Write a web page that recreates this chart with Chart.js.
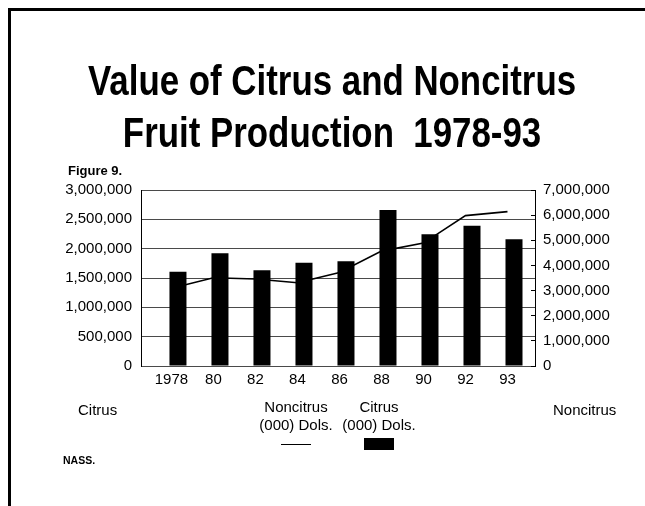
<!DOCTYPE html>
<html>
<head>
<meta charset="utf-8">
<script src="https://cdn.jsdelivr.net/npm/chart.js@4/dist/chart.umd.min.js"></script>
<style>
  html, body { margin: 0; padding: 0; background: #fff; }
  #page { position: relative; width: 645px; height: 506px; overflow: hidden; background: #fff;
          font-family: "Liberation Sans", Arial, Helvetica, sans-serif; color: #000; }
  #frame { position: absolute; left: 8px; top: 8px; width: 700px; height: 600px;
           border-left: 3px solid #000; border-top: 3px solid #000; }
  #chart { position: absolute; left: 0; top: 0; }
  .t { position: absolute; white-space: pre; line-height: 1; }
  .title { left: 10px; width: 645px; text-align: center; font-weight: bold; font-size: 42px; }
  .title span { display: inline-block; transform: scaleX(0.83); transform-origin: center; }
  .lg { position: absolute; text-align: center; font-size: 15px; line-height: 18px; }
  .lg .s { margin: 4px auto 0 auto; }
</style>
</head>
<body>
<div id="page">
  <canvas id="chart" width="645" height="506"></canvas>
  <div id="frame"></div>
  <div class="t title" style="top:60px"><span>Value of Citrus and Noncitrus</span></div>
  <div class="t title" style="top:112px"><span>Fruit Production  1978-93</span></div>
  <div class="t" style="left:68px; top:164px; font-size:13px; font-weight:bold;">Figure 9.</div>
  <div class="t" id="axL" style="left:78px; top:402px; font-size:15px;"></div>
  <div class="t" id="axR" style="left:553px; top:402px; font-size:15px;"></div>
  <div id="legend"></div>
  <div class="t" style="left:63px; top:455px; font-size:10.5px; font-weight:bold;">NASS.</div>
</div>
<script>
// ---- data ----
const years = ['1978', '80', '82', '84', '86', '88', '90', '92', '93'];
const citrusValues = [1607000, 1921000, 1631000, 1761000, 1785000, 2659000, 2245000, 2391000, 2159000];
const noncitrusValues = [3090000, 3510000, 3460000, 3310000, 3720000, 4570000, 4890000, 5980000, 6140000];
const citrusAxisTitle = 'Citrus';
const noncitrusAxisTitle = 'Noncitrus';
const citrusLabel = 'Citrus (000) Dols.';
const noncitrusLabel = 'Noncitrus (000) Dols.';
const leftTicksMax = 3000000, leftTicksStep = 500000;
const rightTicksMax = 7000000, rightTicksStep = 1000000;

const FONT = '"Liberation Sans", Arial, Helvetica, sans-serif';
document.getElementById('axL').textContent = citrusAxisTitle;
document.getElementById('axR').textContent = noncitrusAxisTitle;

const fmt = v => Number(v).toLocaleString('en-US');

const chart = new Chart(document.getElementById('chart'), {
  data: {
    datasets: [
      {
        type: 'bar',
        label: citrusLabel,
        data: citrusValues.map((v, i) => ({ x: i, y: v })),
        backgroundColor: '#000',
        borderWidth: 0,
        xAxisID: 'x',
        yAxisID: 'y',
        grouped: false,
        barPercentage: 0.405,
        categoryPercentage: 1,
        order: 0
      },
      {
        type: 'line',
        label: noncitrusLabel,
        data: noncitrusValues.map((v, i) => ({ x: i, y: v })),
        borderColor: '#000',
        borderWidth: 1.6,
        pointRadius: 0,
        tension: 0,
        fill: false,
        xAxisID: 'x2',
        yAxisID: 'y2',
        order: 1
      }
    ]
  },
  options: {
    responsive: false,
    animation: false,
    layout: { padding: { left: 0, right: 0, top: 190, bottom: 0 } },
    plugins: { legend: { display: false }, tooltip: { enabled: false }, title: { display: false } },
    scales: {
      x: {
        type: 'linear', position: 'bottom', min: -0.88, max: 8.5, offset: false, weight: 1,
        display: true,
        grid: { display: false, drawTicks: false, offset: false },
        border: { display: false },
        ticks: { display: false, stepSize: 1, includeBounds: false, autoSkip: false },
        afterFit: s => { s.height = 0; }
      },
      x2: {
        type: 'linear', position: 'bottom', min: -0.725, max: 8.655, offset: false, weight: 2,
        grid: { display: false, drawTicks: false },
        border: { display: false },
        ticks: {
          stepSize: 1, includeBounds: false, autoSkip: false, maxRotation: 0, padding: 5,
          color: '#000', font: { family: FONT, size: 15 },
          callback: v => (Number.isInteger(v) && years[v] !== undefined) ? years[v] : ''
        },
        afterFit: s => { s.height = 506 - 366; }
      },
      y: {
        position: 'left', min: 0, max: leftTicksMax,
        ticks: { stepSize: leftTicksStep, padding: 9, color: '#000', font: { family: FONT, size: 15 }, callback: fmt },
        grid: { color: '#4a4a4a', lineWidth: 1, drawTicks: false },
        border: { color: '#000', width: 1 },
        afterFit: s => { s.width = 141; }
      },
      y2: {
        position: 'right', min: 0, max: rightTicksMax,
        ticks: { stepSize: rightTicksStep, padding: 12, color: '#000', font: { family: FONT, size: 15 }, callback: fmt },
        grid: { drawOnChartArea: false, drawTicks: true, tickLength: -4, color: '#000' },
        border: { color: '#000', width: 1 },
        afterFit: s => { s.width = 110; }
      }
    }
  }
});

// legend built from the chart's datasets (line series first, then bars)
const legend = document.getElementById('legend');
const cols = [
  { ds: chart.data.datasets[1], cx: 296 },
  { ds: chart.data.datasets[0], cx: 379 }
];
cols.forEach(c => {
  const name = c.ds.label.replace(' (000) Dols.', '');
  const el = document.createElement('div');
  el.className = 'lg';
  el.style.left = (c.cx - 50) + 'px';
  el.style.width = '100px';
  el.style.top = '398px';
  const l1 = document.createElement('div'); l1.textContent = name;
  const l2 = document.createElement('div'); l2.textContent = '(000) Dols.';
  const s = document.createElement('div'); s.className = 's';
  if (c.ds.type === 'line') {
    s.style.width = '30px'; s.style.height = '0'; s.style.borderTop = '1.5px solid ' + c.ds.borderColor;
    s.style.marginTop = '10px';
  } else {
    s.style.width = '30px'; s.style.height = '12px'; s.style.background = c.ds.backgroundColor;
  }
  el.appendChild(l1); el.appendChild(l2); el.appendChild(s);
  legend.appendChild(el);
});
</script>
</body>
</html>
